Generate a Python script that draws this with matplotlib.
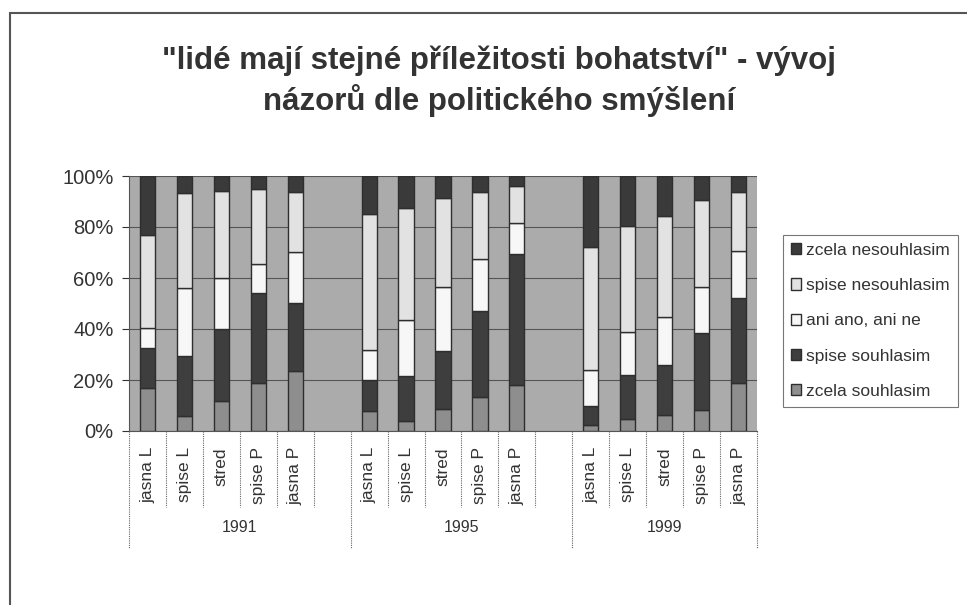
import numpy as np
import matplotlib
matplotlib.use("Agg")
import matplotlib.pyplot as plt
from matplotlib.patches import Rectangle
import matplotlib.transforms as mtransforms

plt.rcParams['font.family'] = ['Liberation Sans', 'DejaVu Sans']

# data (percent shares)
years = ['1991', '1995', '1999']
groups = ['jasna L', 'spise L', 'stred', 'spise P', 'jasna P']
series = ['zcela souhlasim', 'spise souhlasim', 'ani ano, ani ne',
          'spise nesouhlasim', 'zcela nesouhlasim']

zcela_souhlasim = [17.0, 6.0, 11.8, 18.8, 23.7,
                   8.0, 4.0, 8.7, 13.5, 18.0,
                   2.4, 4.8, 6.3, 8.2, 18.9]
spise_souhlasim = [15.4, 23.4, 28.1, 35.2, 26.4,
                   12.0, 17.7, 22.7, 33.7, 51.3,
                   7.4, 17.2, 19.6, 30.3, 33.1]
ani_ano_ani_ne = [8.1, 26.6, 20.0, 11.5, 20.2,
                  11.8, 21.8, 25.0, 20.1, 12.1,
                  14.1, 16.9, 18.7, 17.9, 18.7]
spise_nesouhlasim = [36.4, 37.5, 34.2, 29.3, 23.3,
                     53.2, 43.8, 34.9, 26.3, 14.7,
                     48.4, 41.5, 39.7, 34.2, 22.9]
zcela_nesouhlasim = [23.1, 6.5, 5.9, 5.2, 6.4,
                     15.0, 12.7, 8.7, 6.4, 3.9,
                     27.7, 19.6, 15.7, 9.4, 6.4]

colors = ['#8e8e8e', '#3e3e3e', '#f7f7f7', '#e2e2e2', '#3a3a3a']

# slot positions: 5 bars per year, one empty slot between years
xpos = [0, 1, 2, 3, 4, 6, 7, 8, 9, 10, 12, 13, 14, 15, 16]

W, H = 967, 605
fig = plt.figure(figsize=(W / 100, H / 100), dpi=100)
fig.patch.set_facecolor('white')

# outer frame (only left/top visible)
fig.patches.append(Rectangle((10 / W, -0.05), 1.2, 1 - 13 / H + 0.05,
                             transform=fig.transFigure, fill=False,
                             edgecolor='#555555', lw=1.5))

ax = fig.add_axes([129 / W, (H - 431) / H, (757 - 129) / W, (431 - 176) / H])
ax.set_facecolor('#ababab')

data = [zcela_souhlasim, spise_souhlasim, ani_ano_ani_ne,
        spise_nesouhlasim, zcela_nesouhlasim]
bottom = np.zeros(len(xpos))
bars = []
for vals, c, name in zip(data, colors, series):
    b = ax.bar(xpos, vals, bottom=bottom, width=0.41, color=c,
               edgecolor='#2e2e2e', linewidth=1.0, label=name, zorder=3)
    bars.append(b)
    bottom += np.array(vals)

ax.set_xlim(-0.5, 16.5)
ax.set_ylim(0, 100)
ax.set_yticks(np.arange(0, 101, 20))
ax.set_yticklabels([f'{v}%' for v in range(0, 101, 20)])
ax.tick_params(axis='y', labelsize=14.5, colors='#333333', length=5,
               direction='out', pad=6)
ax.set_xticks([])
ax.yaxis.grid(True, color='#555555', lw=0.8, zorder=1)
for s in ['top', 'right']:
    ax.spines[s].set_visible(False)
ax.spines['left'].set_color('#555555')
ax.spines['bottom'].set_color('#555555')

# category axis: dividers, labels, years
trans = mtransforms.blended_transform_factory(ax.transData, ax.transAxes)
for k in range(18):
    xb = k - 0.5
    if k in (0, 6, 12, 17):
        y_end = -(548 - 431) / 255
    else:
        y_end = -(507 - 431) / 255
    ax.plot([xb, xb], [0, y_end], transform=trans, clip_on=False,
            color='#666666', lw=0.8, ls=(0, (1, 1)))

for i, x in enumerate(xpos):
    ax.text(x, -(447 - 431) / 255, groups[i % 5], transform=trans,
            rotation=90, ha='center', va='top', fontsize=12.5, color='#333333')

for yr, xc in zip(years, [2.5, 8.5, 14]):
    ax.text(xc, -(527 - 431) / 255, yr, transform=trans, ha='center',
            va='center', fontsize=11.5, color='#333333')

# title
fig.text(499 / W, 1 - 81 / H,
         '"lidé mají stejné příležitosti bohatství" - vývoj\nnázorů dle politického smýšlení',
         ha='center', va='center', fontsize=22.5, fontweight='bold',
         color='#333333', linespacing=1.3)

# legend (reverse order, top = zcela nesouhlasim)
leg = fig.legend(bars[::-1], series[::-1], loc='upper left',
                 bbox_to_anchor=(783 / W, 1 - 235 / H), fontsize=12.5,
                 frameon=True, fancybox=False, edgecolor='#555555',
                 handlelength=0.6, handleheight=0.6, handletextpad=0.3,
                 labelspacing=1.17, borderpad=0.45, borderaxespad=0,
                 labelcolor='#333333')
leg.get_frame().set_linewidth(0.8)

fig.savefig('out.png', dpi=100)
